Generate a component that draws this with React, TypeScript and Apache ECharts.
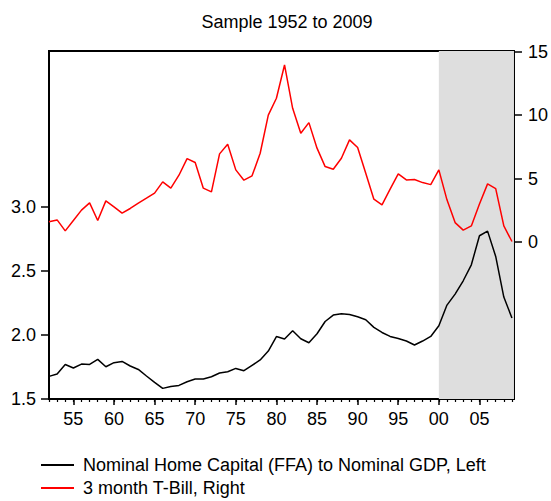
import React, { useEffect, useRef } from "react";
import * as echarts from "echarts";

const years = [
  1952, 1953, 1954, 1955, 1956, 1957, 1958, 1959, 1960, 1961,
  1962, 1963, 1964, 1965, 1966, 1967, 1968, 1969, 1970, 1971,
  1972, 1973, 1974, 1975, 1976, 1977, 1978, 1979, 1980, 1981,
  1982, 1983, 1984, 1985, 1986, 1987, 1988, 1989, 1990, 1991,
  1992, 1993, 1994, 1995, 1996, 1997, 1998, 1999, 2000, 2001,
  2002, 2003, 2004, 2005, 2006, 2007, 2008, 2009,
];

// Nominal Home Capital (FFA) to Nominal GDP (left axis)
const homeCapital = [
  1.677, 1.695, 1.77, 1.742, 1.773, 1.77, 1.81, 1.752, 1.784, 1.794,
  1.758, 1.731, 1.68, 1.63, 1.583, 1.598, 1.606, 1.635, 1.656, 1.656,
  1.674, 1.703, 1.713, 1.739, 1.721, 1.763, 1.805, 1.875, 1.988, 1.969,
  2.034, 1.971, 1.94, 2.01, 2.106, 2.156, 2.166, 2.161, 2.143, 2.12,
  2.06, 2.02, 1.989, 1.973, 1.953, 1.922, 1.953, 1.989, 2.073, 2.234,
  2.32, 2.424, 2.549, 2.776, 2.812, 2.614, 2.297, 2.133,
];

// 3 month T-Bill (right axis)
const tbill = [
  1.6, 1.75, 0.89, 1.7, 2.52, 3.09, 1.7, 3.25, 2.78, 2.28,
  2.65, 3.07, 3.46, 3.86, 4.75, 4.25, 5.27, 6.58, 6.27, 4.25,
  3.96, 6.95, 7.71, 5.69, 4.88, 5.22, 7.0, 10.0, 11.33, 13.95,
  10.54, 8.58, 9.41, 7.4, 5.95, 5.74, 6.61, 8.05, 7.45, 5.43,
  3.38, 2.94, 4.17, 5.38, 4.9, 4.93, 4.69, 4.53, 5.69, 3.33,
  1.54, 0.95, 1.28, 3.0, 4.59, 4.22, 1.28, 0.05,
];

const labelYears = [1955, 1960, 1965, 1970, 1975, 1980, 1985, 1990, 1995, 2000, 2005];
const leftTicks = [1.5, 2.0, 2.5, 3.0];
const rightTicks = [0, 5, 10, 15];
const shadeRange = [2000, 2009.25];
const xRange = [1952, 2009.25];
const leftRange = [1.5, 4.22];
const rightRange = [-12.35, 15.05];

const seriesNames = [
  "Nominal Home Capital (FFA) to Nominal GDP, Left",
  "3 month T-Bill, Right",
];

const FONT = "'Liberation Sans', Arial, Helvetica, sans-serif";

export default function App() {
  const ref = useRef<HTMLDivElement>(null);

  useEffect(() => {
    const chart = echarts.init(ref.current!, null, { renderer: "svg" });
    const homeData = years.map((y, i) => [y, homeCapital[i]]);
    const billData = years.map((y, i) => [y, tbill[i]]);

    chart.setOption({
      animation: false,
      backgroundColor: "#fff",
      textStyle: { fontFamily: FONT },
      title: {
        text: "Sample 1952 to 2009",
        left: 282,
        textAlign: "center",
        top: 8,
        textStyle: { fontSize: 18, fontWeight: "normal", color: "#000", fontFamily: FONT },
      },
      legend: {
        orient: "vertical",
        left: 41,
        top: 456,
        padding: 0,
        height: 45,
        itemWidth: 33,
        itemHeight: 2,
        itemGap: 5,
        icon: "rect",
        data: seriesNames,
        textStyle: { fontSize: 18, color: "#000", fontFamily: FONT, padding: [0, 0, 0, 4] },
      },
      grid: {
        left: 49,
        right: 37,
        top: 51,
        bottom: 102,
        show: true,
        borderColor: "#000",
        borderWidth: 2,
        backgroundColor: "transparent",
      },
      xAxis: [
        {
          type: "value",
          min: xRange[0],
          max: xRange[1],
          position: "bottom",
          axisLine: { show: true, onZero: false, lineStyle: { color: "#000", width: 2 } },
          axisTick: { show: true, customValues: labelYears, length: 6, lineStyle: { color: "#000", width: 1.5 } },
          axisLabel: {
            customValues: labelYears,
            formatter: (v: number) => String(v % 100).padStart(2, "0"),
            fontSize: 18,
            color: "#000",
            margin: 11,
            fontFamily: FONT,
          },
          splitLine: { show: false },
        },
        {
          type: "value",
          min: xRange[0],
          max: xRange[1],
          position: "bottom",
          axisLine: { show: false, onZero: false },
          axisTick: { show: true, customValues: years, length: 3, lineStyle: { color: "#000", width: 1.2 } },
          axisLabel: { show: false },
          splitLine: { show: false },
        },
      ],
      yAxis: [
        {
          type: "value",
          min: leftRange[0],
          max: leftRange[1],
          position: "left",
          axisLine: { show: true, onZero: false, lineStyle: { color: "#000", width: 2 } },
          axisTick: { show: true, customValues: leftTicks, length: 8, lineStyle: { color: "#000", width: 1.5 } },
          axisLabel: {
            customValues: leftTicks,
            formatter: (v: number) => v.toFixed(1),
            fontSize: 18,
            color: "#000",
            margin: 13,
            fontFamily: FONT,
          },
          splitLine: { show: false },
        },
        {
          type: "value",
          min: rightRange[0],
          max: rightRange[1],
          position: "right",
          axisLine: { show: true, onZero: false, lineStyle: { color: "#000", width: 2 } },
          axisTick: { show: true, customValues: rightTicks, length: 8, lineStyle: { color: "#000", width: 1.5 } },
          axisLabel: {
            customValues: rightTicks,
            formatter: (v: number) => String(v),
            fontSize: 18,
            color: "#000",
            margin: 14,
            fontFamily: FONT,
          },
          splitLine: { show: false },
        },
      ],
      series: [
        {
          type: "line",
          name: "shade",
          xAxisIndex: 0,
          yAxisIndex: 0,
          z: 1,
          silent: true,
          showSymbol: false,
          data: [[shadeRange[0], 2], [shadeRange[1], 2]],
          lineStyle: { opacity: 0 },
          markArea: {
            silent: true,
            itemStyle: { color: "#dedede" },
            data: [[{ xAxis: shadeRange[0] }, { xAxis: shadeRange[1] }]],
          },
        },
        {
          type: "line",
          name: seriesNames[0],
          xAxisIndex: 0,
          yAxisIndex: 0,
          z: 3,
          showSymbol: false,
          color: "#000",
          lineStyle: { color: "#000", width: 1.5 },
          data: homeData,
        },
        {
          type: "line",
          name: seriesNames[1],
          xAxisIndex: 0,
          yAxisIndex: 1,
          z: 3,
          showSymbol: false,
          color: "#ff0000",
          lineStyle: { color: "#ff0000", width: 1.5 },
          data: billData,
        },
      ],
    });

    return () => chart.dispose();
  }, []);

  return (
    <div
      ref={ref}
      style={{ position: "fixed", left: 0, top: 0, width: 551, height: 501 }}
    />
  );
}
